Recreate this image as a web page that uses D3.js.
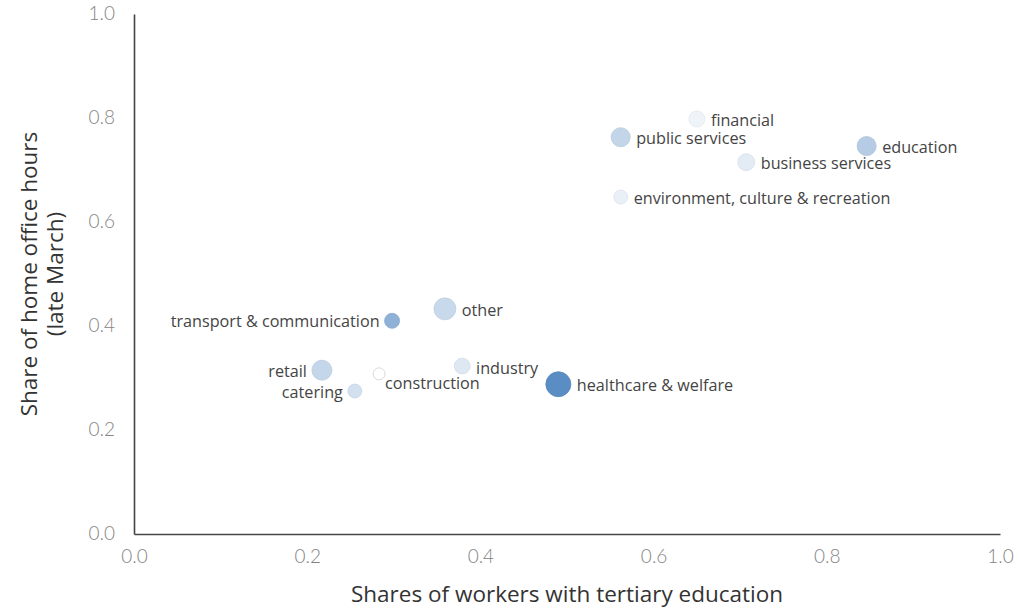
<!DOCTYPE html>
<html>
<head>
<meta charset="utf-8">
<script src="https://cdn.jsdelivr.net/npm/d3@7"></script>
<style>
  body { margin: 0; background: #fff; }
  svg { display: block; font-family: "Open Sans", sans-serif; }
  .tick text { fill: #858585; font-size: 19px; font-family: Lato, sans-serif; font-weight: 300; }
  .label { fill: #444; font-size: 16.2px; }
  .title { fill: #333; font-size: 22.5px; }
</style>
</head>
<body>
<div class="chart"></div>
<script>

const sectors = ["financial", "public services", "education", "business services",
	"environment, culture & recreation", "other", "transport & communication",
	"retail", "construction", "catering", "industry", "healthcare & welfare"];
const tertiary = [0.650, 0.562, 0.846, 0.707, 0.562, 0.359, 0.298, 0.217, 0.283, 0.255, 0.379, 0.490];
const homeOffice = [0.798, 0.763, 0.746, 0.715, 0.648, 0.433, 0.410, 0.315, 0.308, 0.275, 0.323, 0.288];
const weight = [41, 58, 58, 46, 31, 77, 36, 64, 23, 31, 40, 100];
const shade = [0.10, 0.37, 0.45, 0.17, 0.13, 0.33, 0.68, 0.36, 0.0, 0.27, 0.20, 1.0];
const ticks = [0, 0.2, 0.4, 0.6, 0.8, 1.0];

const width = 1019;
const height = 613;
const margin = {top: 14, right: 19, bottom: 79, left: 134};

const data = sectors.map((s, i) => ({
	name: s,
	x: tertiary[i],
	y: homeOffice[i],
	w: weight[i],
	c: shade[i]
}));

// which side the label goes
const labelSide = {
	"transport & communication": "left",
	"retail": "left",
	"catering": "left",
	"construction": "below",
	"industry": "up"
};

const svg = d3.select(".chart")
				.append("svg")
				.attr("width", width)
				.attr("height", height);

const x = d3.scaleLinear()
			.domain([0, 1])
			.range([margin.left, width - margin.right]);
const y = d3.scaleLinear()
			.domain([0, 1])
			.range([height - margin.bottom, margin.top]);
const radius = d3.scaleSqrt()
			.domain([0, d3.max(weight)])
			.range([0, 12.5]);
const color = d3.scaleLinear()
			.domain([0, 1])
			.range(["#ffffff", "#5a8dc4"]);

// axes
const xAxis = svg.append("g")
	.attr("transform", `translate(0, ${height - margin.bottom})`)
	.call(d3.axisBottom(x).tickValues(ticks).tickFormat(d3.format(".1f")).tickSize(0).tickPadding(16));
const yAxis = svg.append("g")
	.attr("transform", `translate(${margin.left}, 0)`)
	.call(d3.axisLeft(y).tickValues(ticks).tickFormat(d3.format(".1f")).tickSize(0).tickPadding(19));

[xAxis, yAxis].forEach((a) => {
	a.select(".domain").attr("stroke", "#444").attr("stroke-width", 1.6);
});
yAxis.selectAll(".tick text").attr("dy", "0.3em");

// points
const marks = svg.append("g")
	.selectAll("g")
	.data(data).enter()
	.append("g")
	.attr("transform", (d) => `translate(${x(d.x)}, ${y(d.y)})`);

marks.append("circle")
	.attr("r", (d) => radius(d.w))
	.style("fill", (d) => color(d.c))
	.style("stroke", (d) => d.c === 0 ? "#cfcfcf" : d3.color(color(d.c)).darker(0.15))
	.style("stroke-width", 0.8);

marks.append("text")
	.attr("class", "label")
	.attr("x", (d) => {
		const side = labelSide[d.name];
		const r = radius(d.w);
		if (side === "left") return -r - 5;
		if (side === "below") return r;
		return r + 6;
	})
	.attr("y", (d) => {
		const side = labelSide[d.name];
		if (side === "below") return 9;
		if (side === "up") return 2;
		return 1;
	})
	.attr("dy", "0.35em")
	.attr("text-anchor", (d) => labelSide[d.name] === "left" ? "end" : "start")
	.text((d) => d.name);

// titles
svg.append("text")
	.attr("class", "title")
	.attr("x", (margin.left + width - margin.right) / 2)
	.attr("y", 602)
	.attr("text-anchor", "middle")
	.text("Shares of workers with tertiary education");

const yTitle = svg.append("text")
	.attr("class", "title")
	.attr("transform", `translate(29, ${(margin.top + height - margin.bottom) / 2}) rotate(-90)`)
	.attr("text-anchor", "middle");
yTitle.append("tspan").attr("x", 0).attr("dy", "0.35em").text("Share of home office hours");
yTitle.append("tspan").attr("x", 0).attr("dy", "1.15em").text("(late March)");

</script>
</body>
</html>
